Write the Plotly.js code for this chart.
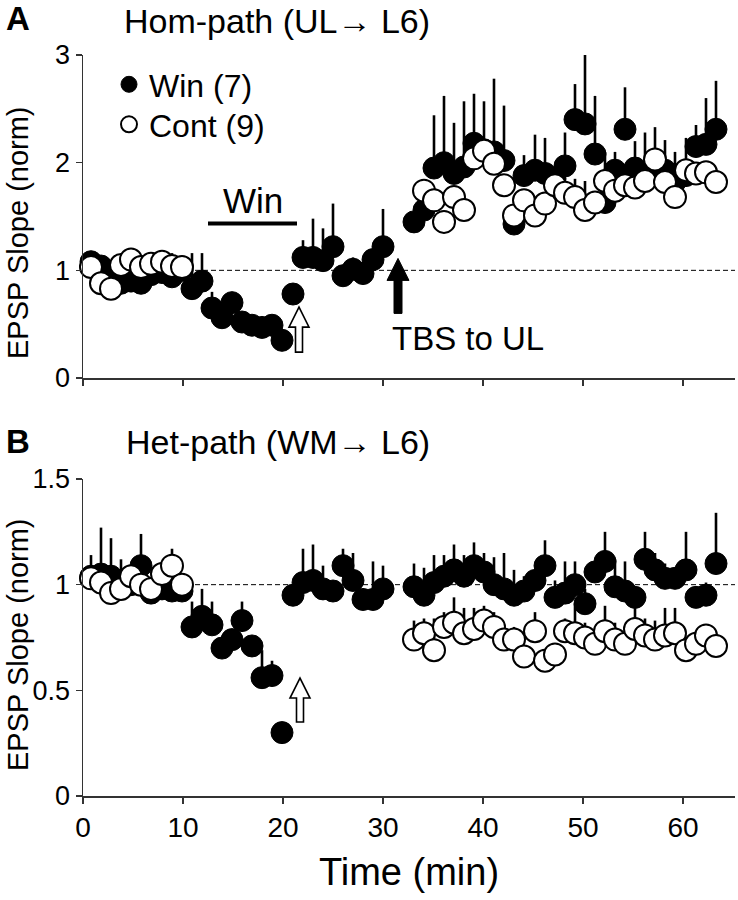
<!DOCTYPE html>
<html><head><meta charset="utf-8">
<script src="https://cdn.plot.ly/plotly-3.0.1.min.js"></script>
<style>html,body{margin:0;padding:0;background:#fff}</style>
</head><body><div id="chart" style="width:738px;height:900px"></div>
<script>
// ---- time points (min) ----
const timePre   = [0.8,1.8,2.8,3.8,4.8,5.8,6.8,7.9,8.9,9.9];
const timeWash  = [10.9,11.9,12.9,13.9,14.9,15.9,16.9,17.9,18.9,19.9,21.0];
const timeRecov = [22.0,23.0,24.0,25.0,26.0,27.0,28.0,29.0,30.0];
const timePost  = [33.1,34.1,35.1,36.1,37.1,38.1,39.1,40.1,41.1,42.1,43.1,44.1,45.2,46.2,47.2,48.2,49.2,50.2,51.2,52.2,53.2,54.2,55.2,56.2,57.2,58.2,59.2,60.3,61.3,62.3,63.3];

// ---- A: Hom-path (UL -> L6) ----
const homWin = [1.08,1.04,0.98,0.88,0.90,0.88,0.96,0.98,0.94,1.00,
  0.83,0.90,0.65,0.56,0.70,0.52,0.49,0.47,0.49,0.35,0.78,
  1.12,1.12,1.09,1.22,0.95,1.01,0.97,1.10,1.22,
  1.45,1.56,1.95,2.00,1.90,1.96,2.18,2.12,2.10,2.02,1.43,1.88,1.93,1.90,1.85,1.97,2.40,2.36,2.08,1.63,1.93,2.31,1.95,1.90,1.90,1.93,1.82,1.88,2.15,2.17,2.31];
const homWinErr = [0,0,0,0,0,0,0,0,0.22,0,
  0.33,0.26,0.15,0,0,0,0,0,0,0,0,
  0.16,0.36,0.30,0.40,0,0.11,0.03,0.06,0.35,
  0,0.05,0.49,0.62,0.47,0.61,0.46,0.45,0.68,0.51,0.10,0.19,0.33,0.33,0.10,0.31,0.33,0.66,0.54,0.47,0.17,0.39,0.25,0.38,0.43,0.28,0.28,0.35,0.20,0.43,0.45];
const homCont = [1.03,0.88,0.83,1.05,1.10,1.03,1.06,1.08,1.04,1.03,
  1.74,1.65,1.45,1.68,1.56,2.04,2.11,1.99,1.79,1.51,1.65,1.51,1.62,1.79,1.72,1.68,1.56,1.63,1.83,1.74,1.79,1.77,1.83,2.03,1.82,1.68,1.93,1.90,1.91,1.82];
const homContErr = [0,0,0,0,0,0,0,0,0,0,
  0.06,0.06,0.05,0.08,0.06,0.06,0.05,0.06,0.06,0.08,0.10,0.10,0.08,0.06,0.08,0.17,0.27,0.08,0.06,0.08,0.06,0.06,0.08,0.06,0.06,0.08,0.06,0.06,0.06,0.06];

// ---- B: Het-path (WM -> L6) ----
const hetWin = [1.04,1.05,1.04,1.00,1.00,1.09,0.96,0.98,0.97,0.97,
  0.80,0.85,0.81,0.70,0.74,0.83,0.71,0.56,0.57,0.30,0.95,
  1.01,1.02,0.98,0.97,1.09,1.02,0.93,0.93,0.98,
  0.99,0.95,1.01,1.04,1.07,1.04,1.09,1.06,1.00,0.98,0.95,0.97,1.02,1.09,0.94,0.96,1.00,0.91,1.06,1.11,0.99,0.97,0.94,1.12,1.07,1.03,1.03,1.07,0.94,0.95,1.10];
const hetWinErr = [0.10,0.22,0.18,0.12,0.05,0.15,0,0,0,0,
  0.12,0.13,0.11,0,0,0.09,0,0.13,0.07,0,0,
  0.16,0.17,0.11,0.04,0.08,0.13,0.03,0.18,0.11,
  0.11,0.13,0.13,0.10,0.12,0.10,0.11,0.09,0.13,0.17,0.12,0.07,0.04,0.12,0.08,0.15,0.11,0.07,0.04,0.14,0.13,0.14,0.02,0.13,0.08,0.07,0.05,0.18,0.05,0.06,0.24];
const hetCont = [1.03,1.01,0.96,0.98,1.04,1.00,0.98,1.05,1.09,1.00,
  0.74,0.77,0.69,0.80,0.82,0.77,0.79,0.83,0.80,0.74,0.74,0.66,0.78,0.64,0.67,0.78,0.77,0.75,0.72,0.78,0.74,0.72,0.79,0.76,0.74,0.76,0.77,0.69,0.72,0.76,0.71];
const hetContErr = [0,0,0,0,0,0,0,0,0.08,0,
  0.09,0.07,0.15,0.07,0.12,0.12,0.10,0.07,0.07,0.06,0.06,0.05,0.09,0.04,0.05,0.06,0.14,0.07,0.05,0.12,0.08,0.05,0.11,0.08,0.09,0.13,0.12,0.05,0.05,0.05,0.04];

const xTickVals = [0,10,20,30,40,50,60];
const legendNames = ['Win (7)', 'Cont (9)'];

const winTime = timePre.concat(timeWash, timeRecov, timePost);
const homContTime = timePre.concat(timePost.slice(1));
const hetContTime = timePre.concat(timePost);

const FONT = 'Liberation Sans, Arial, Helvetica, sans-serif';

function series(x, y, err, filled, xa, ya, name, showleg, leg) {
  const t = {
    type: 'scatter', mode: 'markers', x: x, y: y, name: name,
    xaxis: xa, yaxis: ya, showlegend: showleg, legendgroup: name,
    cliponaxis: false,
    marker: {size: 22, color: filled ? 'black' : 'white',
             line: {color: 'black', width: filled ? 1 : 2}},
    error_y: {type: 'data', symmetric: false, array: err,
              arrayminus: err.map(function(){return 0;}),
              color: 'black', thickness: 2.6, width: 0}
  };
  if (leg) t.legend = leg;
  return t;
}

const data = [
  series(winTime, homWin, homWinErr, true, 'x', 'y', legendNames[0], true, 'legend'),
  series(homContTime, homCont, homContErr, false, 'x', 'y', legendNames[1], true, 'legend2'),
  series(winTime, hetWin, hetWinErr, true, 'x2', 'y2', legendNames[0], false),
  series(hetContTime, hetCont, hetContErr, false, 'x2', 'y2', legendNames[1], false)
];

const W = 652, H = 741, L = 83, B = 796; // plot area in px
function px(X){ return (X - L) / W; }
function py(Y){ return (B - Y) / H; }

const axisCommon = {
  showline: true, linecolor: '#333', linewidth: 1.5, mirror: false,
  ticks: 'outside', ticklen: 6, tickwidth: 1.5, tickcolor: '#333',
  showgrid: false, zeroline: false
};
const legendCommon = {xanchor: 'left', yanchor: 'top',
  font: {size: 32, family: FONT}, bgcolor: 'rgba(0,0,0,0)', itemsizing: 'trace'};

const layout = {
  width: 738, height: 900,
  margin: {l: L, r: 3, t: 55, b: 104},
  paper_bgcolor: 'white', plot_bgcolor: 'white',
  font: {family: FONT, color: 'black'},
  showlegend: true,
  legend: Object.assign({}, legendCommon, {x: px(109), y: py(57)}),
  legend2: Object.assign({}, legendCommon, {x: px(109), y: py(97)}),
  xaxis: Object.assign({}, axisCommon, {domain: [0,1], range: [0, 65.2], anchor: 'y',
           tickvals: xTickVals, showticklabels: false}),
  yaxis: Object.assign({}, axisCommon, {domain: [py(378), 1], range: [0, 3], anchor: 'x',
           tickvals: [0,1,2,3], tickfont: {size: 27}}),
  xaxis2: Object.assign({}, axisCommon, {domain: [0,1], range: [0, 65.2], anchor: 'y2',
           tickvals: xTickVals, tickfont: {size: 28},
           title: {text: 'Time (min)', font: {size: 38}, standoff: 16}}),
  yaxis2: Object.assign({}, axisCommon, {domain: [0, py(479)], range: [0, 1.5], anchor: 'x2',
           tickvals: [0,0.5,1,1.5], ticktext: ['0','0.5','1','1.5'], tickfont: {size: 27}}),
  shapes: [
    {type: 'line', xref: 'x domain', yref: 'y', x0: 0, x1: 1, y0: 1, y1: 1,
     line: {color: 'black', width: 1, dash: '5px,3px'}, layer: 'below'},
    {type: 'line', xref: 'x2 domain', yref: 'y2', x0: 0, x1: 1, y0: 1, y1: 1,
     line: {color: 'black', width: 1, dash: '5px,3px'}, layer: 'below'},
    // Win application bar
    {type: 'line', xref: 'x', yref: 'y', x0: 12.5, x1: 21.4, y0: 1.435, y1: 1.435,
     line: {color: 'black', width: 4}},
    // open arrow (washout) A
    {type: 'path', xref: 'x', yref: 'y', xsizemode: 'pixel', ysizemode: 'pixel',
     xanchor: 21.6, yanchor: 0.24,
     path: 'M-3.5,0 L-3.5,25 L-10,25 L0,45 L10,25 L3.5,25 L3.5,0 Z',
     fillcolor: 'white', line: {color: 'black', width: 1.6}},
    // open arrow B
    {type: 'path', xref: 'x2', yref: 'y2', xsizemode: 'pixel', ysizemode: 'pixel',
     xanchor: 21.7, yanchor: 0.35,
     path: 'M-3.5,0 L-3.5,24 L-10,24 L0,44 L10,24 L3.5,24 L3.5,0 Z',
     fillcolor: 'white', line: {color: 'black', width: 1.6}},
    // TBS arrow
    {type: 'path', xref: 'x', yref: 'y', xsizemode: 'pixel', ysizemode: 'pixel',
     xanchor: 31.5, yanchor: 0.60,
     path: 'M-4,0 L-4,33 L-11,33 L0,55 L11,33 L4,33 L4,0 Z',
     fillcolor: 'black', line: {color: 'black', width: 1}}
  ],
  annotations: [
    {xref: 'paper', yref: 'paper', x: px(4), y: py(19), xanchor: 'left', yanchor: 'middle',
     text: '<b>A</b>', showarrow: false, font: {size: 33}},
    {xref: 'paper', yref: 'paper', x: px(122), y: py(21), xanchor: 'left', yanchor: 'middle',
     text: 'Hom-path (UL\u2192 L6)', showarrow: false, font: {size: 34}},
    {xref: 'paper', yref: 'paper', x: px(4), y: py(442), xanchor: 'left', yanchor: 'middle',
     text: '<b>B</b>', showarrow: false, font: {size: 33}},
    {xref: 'paper', yref: 'paper', x: px(124), y: py(442), xanchor: 'left', yanchor: 'middle',
     text: 'Het-path (WM\u2192 L6)', showarrow: false, font: {size: 34}},
    {xref: 'paper', yref: 'paper', x: px(18), y: py(233), xanchor: 'center', yanchor: 'middle',
     text: 'EPSP Slope (norm)', textangle: -90, showarrow: false, font: {size: 29}},
    {xref: 'paper', yref: 'paper', x: px(18), y: py(645), xanchor: 'center', yanchor: 'middle',
     text: 'EPSP Slope (norm)', textangle: -90, showarrow: false, font: {size: 29}},
    {xref: 'x', yref: 'y', x: 17.0, y: 1.65, xanchor: 'center', yanchor: 'middle',
     text: 'Win', showarrow: false, font: {size: 35}},
    {xref: 'x', yref: 'y', x: 30.7, y: 0.37, xanchor: 'left', yanchor: 'middle',
     text: 'TBS to UL', showarrow: false, font: {size: 33}}
  ]
};

Plotly.newPlot('chart', data, layout, {displayModeBar: false, staticPlot: true});
</script></body></html>
